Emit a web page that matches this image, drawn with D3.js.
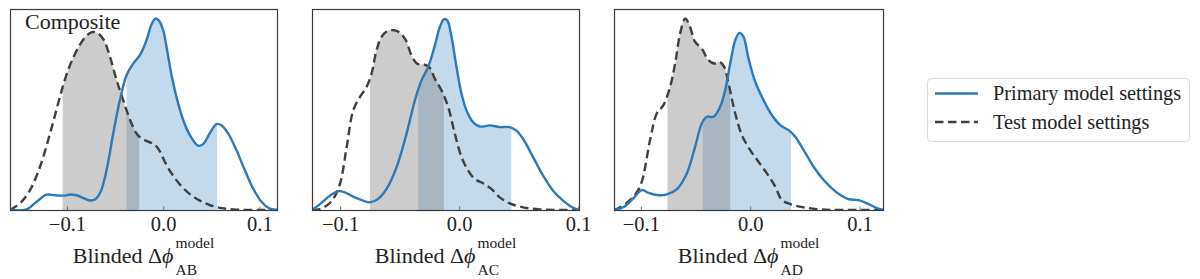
<!DOCTYPE html>
<html><head><meta charset="utf-8">
<script src="https://cdn.jsdelivr.net/npm/d3@7"></script>
<style>body{margin:0;background:#fff}svg{display:block}</style>
</head><body>
<svg id="chart" width="1200" height="279"></svg>
<script>
// ---- data (relative density, peak of tallest curve = 1) ----
const panelNames = ["AB", "AC", "AD"];
const xLimits = [[-0.1592, 0.1183], [-0.1236, 0.1007], [-0.1246, 0.1215]];
const tickValues = [-0.1, 0.0, 0.1];
const seriesNames = ["Primary model settings", "Test model settings"];

const abPrimary = [[-0.1592,0],[-0.1419,0.003],[-0.1315,0.043],[-0.1211,0.080],[-0.1125,0.077],[-0.1040,0.075],[-0.0960,0.081],[-0.0900,0.077],[-0.0830,0.062],[-0.0760,0.050],[-0.0705,0.056],[-0.0650,0.095],[-0.0588,0.209],[-0.0519,0.40],[-0.0450,0.574],[-0.0381,0.704],[-0.0311,0.765],[-0.0242,0.809],[-0.0173,0.887],[-0.0121,0.97],[-0.0080,1.0],[-0.0042,0.988],[0.0,0.939],[0.0035,0.852],[0.0087,0.704],[0.0138,0.591],[0.0208,0.47],[0.0277,0.391],[0.0363,0.336],[0.0415,0.344],[0.0484,0.40],[0.0554,0.449],[0.0606,0.443],[0.0675,0.40],[0.0761,0.313],[0.0848,0.209],[0.0934,0.113],[0.1021,0.043],[0.1107,0.007],[0.1183,0]];
const abTest = [[-0.1592,0],[-0.1488,0.035],[-0.1384,0.104],[-0.1280,0.226],[-0.1176,0.40],[-0.1073,0.591],[-0.1003,0.71],[-0.0934,0.797],[-0.0865,0.864],[-0.0796,0.911],[-0.0734,0.93],[-0.0675,0.922],[-0.0616,0.887],[-0.0554,0.803],[-0.0484,0.678],[-0.0433,0.60],[-0.0381,0.522],[-0.0329,0.452],[-0.0277,0.40],[-0.0225,0.374],[-0.0156,0.357],[-0.0097,0.344],[-0.0042,0.313],[0.0017,0.252],[0.0087,0.191],[0.0173,0.134],[0.0277,0.083],[0.0381,0.049],[0.0484,0.026],[0.0606,0.010],[0.0761,0.002],[0.0969,0],[0.1183,0]];
const acPrimary = [[-0.1236,0],[-0.1169,0.031],[-0.1085,0.075],[-0.1015,0.098],[-0.0959,0.092],[-0.0889,0.07],[-0.0806,0.049],[-0.0750,0.04],[-0.0680,0.058],[-0.0610,0.11],[-0.0526,0.223],[-0.0442,0.398],[-0.0372,0.572],[-0.0316,0.677],[-0.0260,0.747],[-0.0204,0.86],[-0.0162,0.956],[-0.0126,0.997],[-0.0098,0.988],[-0.0064,0.904],[-0.0022,0.747],[0.0020,0.607],[0.0062,0.52],[0.0117,0.459],[0.0173,0.436],[0.0257,0.442],[0.0341,0.433],[0.0425,0.433],[0.0481,0.415],[0.0537,0.372],[0.0621,0.276],[0.0705,0.18],[0.0789,0.101],[0.0873,0.049],[0.0943,0.017],[0.1007,0]];
const acTest = [[-0.1236,0],[-0.1169,0.005],[-0.1113,0.023],[-0.1057,0.058],[-0.1001,0.136],[-0.0945,0.328],[-0.0890,0.52],[-0.0834,0.59],[-0.0778,0.642],[-0.0736,0.712],[-0.0694,0.834],[-0.0652,0.904],[-0.0604,0.935],[-0.0548,0.939],[-0.0498,0.927],[-0.0448,0.887],[-0.0400,0.808],[-0.0352,0.764],[-0.0302,0.761],[-0.0252,0.747],[-0.0204,0.686],[-0.0148,0.625],[-0.0092,0.538],[-0.0036,0.398],[0.0020,0.276],[0.0076,0.206],[0.0131,0.162],[0.0201,0.14],[0.0271,0.11],[0.0341,0.066],[0.0425,0.035],[0.0537,0.014],[0.0677,0.003],[0.0845,0],[0.1007,0]];
const adPrimary = [[-0.1246,0],[-0.1160,0.014],[-0.1069,0.061],[-0.0992,0.104],[-0.0931,0.09],[-0.0855,0.078],[-0.0763,0.082],[-0.0672,0.108],[-0.0580,0.191],[-0.0504,0.33],[-0.0443,0.452],[-0.0397,0.487],[-0.0336,0.487],[-0.0275,0.539],[-0.0229,0.626],[-0.0183,0.765],[-0.0137,0.887],[-0.0098,0.925],[-0.0061,0.904],[-0.0015,0.791],[0.0046,0.67],[0.0122,0.574],[0.0198,0.496],[0.0275,0.443],[0.0351,0.417],[0.0412,0.383],[0.0489,0.313],[0.0580,0.226],[0.0672,0.157],[0.0748,0.113],[0.0824,0.078],[0.0901,0.056],[0.0992,0.052],[0.1069,0.035],[0.1145,0.014],[0.1215,0]];
const adTest = [[-0.1246,0],[-0.1191,0.014],[-0.1099,0.052],[-0.1008,0.122],[-0.0916,0.365],[-0.0855,0.504],[-0.0794,0.548],[-0.0733,0.643],[-0.0687,0.765],[-0.0641,0.922],[-0.0595,1.0],[-0.0556,0.965],[-0.0504,0.878],[-0.0443,0.843],[-0.0382,0.783],[-0.0330,0.765],[-0.0281,0.774],[-0.0238,0.748],[-0.0198,0.661],[-0.0137,0.504],[-0.0076,0.391],[0.0,0.313],[0.0076,0.252],[0.0153,0.191],[0.0229,0.122],[0.0290,0.052],[0.0366,0.031],[0.0489,0.014],[0.0641,0.003],[0.0824,0],[0.1215,0]];
// shaded credible intervals [low, high]
const primaryIntervals = [[-0.0381, 0.0561], [-0.0344, 0.0439], [-0.0434, 0.0373]];
const testIntervals = [[-0.1045, -0.0249], [-0.0750, -0.0129], [-0.0757, -0.0183]];
const primarySeries = [abPrimary, acPrimary, adPrimary];
const testSeries = [abTest, acTest, adTest];
const panelTitle = "Composite";

// ---- layout ----
const svg = d3.select("#chart");
const FONT = "'Liberation Serif','Times New Roman',serif";
const panelX = [[10, 277], [312, 579], [614, 883]];
const plotTop = 9, plotBottom = 210;
const blue = "#2a79b9", dark = "#3f3f3f";
const defs = svg.append("defs");
const curve = d3.curveCatmullRom.alpha(0.5);

panelNames.forEach((name, i) => {
  const x = d3.scaleLinear().domain(xLimits[i]).range(panelX[i]);
  const y = d3.scaleLinear().domain([0, 1.05]).range([plotBottom, plotTop]);
  const g = svg.append("g");
  const area = d3.area().x(d => x(d[0])).y0(y(0)).y1(d => y(d[1])).curve(curve);
  const line = d3.line().x(d => x(d[0])).y(d => y(d[1])).curve(curve);

  defs.append("clipPath").attr("id", `clip-plot-${i}`)
    .append("rect").attr("x", panelX[i][0]).attr("y", plotTop).attr("width", panelX[i][1] - panelX[i][0]).attr("height", plotBottom - plotTop);
  [["p", primaryIntervals[i]], ["t", testIntervals[i]]].forEach(([k, iv]) => {
    defs.append("clipPath").attr("id", `clip-${k}-${i}`)
      .append("rect").attr("x", x(iv[0])).attr("y", plotTop).attr("width", x(iv[1]) - x(iv[0])).attr("height", plotBottom - plotTop);
  });
  const plot = g.append("g").attr("clip-path", `url(#clip-plot-${i})`);
  plot.append("path").datum(primarySeries[i]).attr("d", area)
    .attr("fill", "#1f77b4").attr("fill-opacity", 0.27).attr("clip-path", `url(#clip-p-${i})`);
  plot.append("path").datum(testSeries[i]).attr("d", area)
    .attr("fill", "#808080").attr("fill-opacity", 0.4).attr("clip-path", `url(#clip-t-${i})`);

  plot.append("path").datum(testSeries[i]).attr("d", line)
    .attr("fill", "none").attr("stroke", dark).attr("stroke-width", 2.4).attr("stroke-dasharray", "8.5,4.5");
  plot.append("path").datum(primarySeries[i]).attr("d", line)
    .attr("fill", "none").attr("stroke", blue).attr("stroke-width", 2.4);

  // frame
  g.append("rect").attr("x", panelX[i][0] + 0.5).attr("y", plotTop + 0.5)
    .attr("width", panelX[i][1] - panelX[i][0]).attr("height", plotBottom - plotTop)
    .attr("fill", "none").attr("stroke", "#3a3a3a").attr("stroke-width", 1.2);

  // axis
  const ax = g.append("g").attr("transform", `translate(0,${plotBottom + 0.5})`)
    .call(d3.axisBottom(x).tickValues(tickValues).tickFormat(d3.format(".1f")).tickSizeInner(-4).tickSizeOuter(0).tickPadding(6));
  ax.select(".domain").remove();
  ax.selectAll("line").attr("stroke", "#555").attr("stroke-width", 0.8);
  ax.selectAll("text").attr("font-family", FONT).attr("font-size", 20.5).attr("fill", "#222");

  // x label with sup/sub
  const lab = g.append("g");
  const main = lab.append("text").attr("font-family", FONT).attr("font-size", 22).attr("fill", "#222").attr("y", 0);
  main.append("tspan").text("Blinded Δ");
  main.append("tspan").attr("font-style", "italic").text("ϕ");
  const w = main.node().getComputedTextLength();
  const sup = lab.append("text").attr("x", w + 2).attr("y", -15).attr("font-family", FONT).attr("font-size", 15.5).attr("fill", "#222").text("model");
  const sub = lab.append("text").attr("x", w + 2).attr("y", 12).attr("font-family", FONT).attr("font-size", 15.5).attr("fill", "#222").text(name);
  const tw = w + 2 + Math.max(sup.node().getComputedTextLength(), sub.node().getComputedTextLength());
  const cx = (panelX[i][0] + panelX[i][1]) / 2;
  lab.attr("transform", `translate(${cx - tw / 2},263)`);

  if (i === 0) {
    g.append("text").attr("x", 25).attr("y", 28.5).attr("font-family", FONT).attr("font-size", 22).attr("fill", "#222").text(panelTitle);
  }
});

// legend
const lg = svg.append("g");
lg.append("rect").attr("x", 927.5).attr("y", 78.5).attr("width", 262).attr("height", 63).attr("rx", 4)
  .attr("fill", "#fff").attr("stroke", "#d9d9d9").attr("stroke-width", 1);
seriesNames.forEach((s, k) => {
  const yy = 93.5 + k * 28.5;
  lg.append("line").attr("x1", 935).attr("x2", 978).attr("y1", yy).attr("y2", yy)
    .attr("stroke", k === 0 ? blue : dark).attr("stroke-width", 2.4)
    .attr("stroke-dasharray", k === 0 ? null : "8.5,4.5");
  lg.append("text").attr("x", 993).attr("y", yy + 6.5).attr("font-family", FONT).attr("font-size", 20.3).attr("fill", "#222").text(s);
});
</script>
</body></html>
